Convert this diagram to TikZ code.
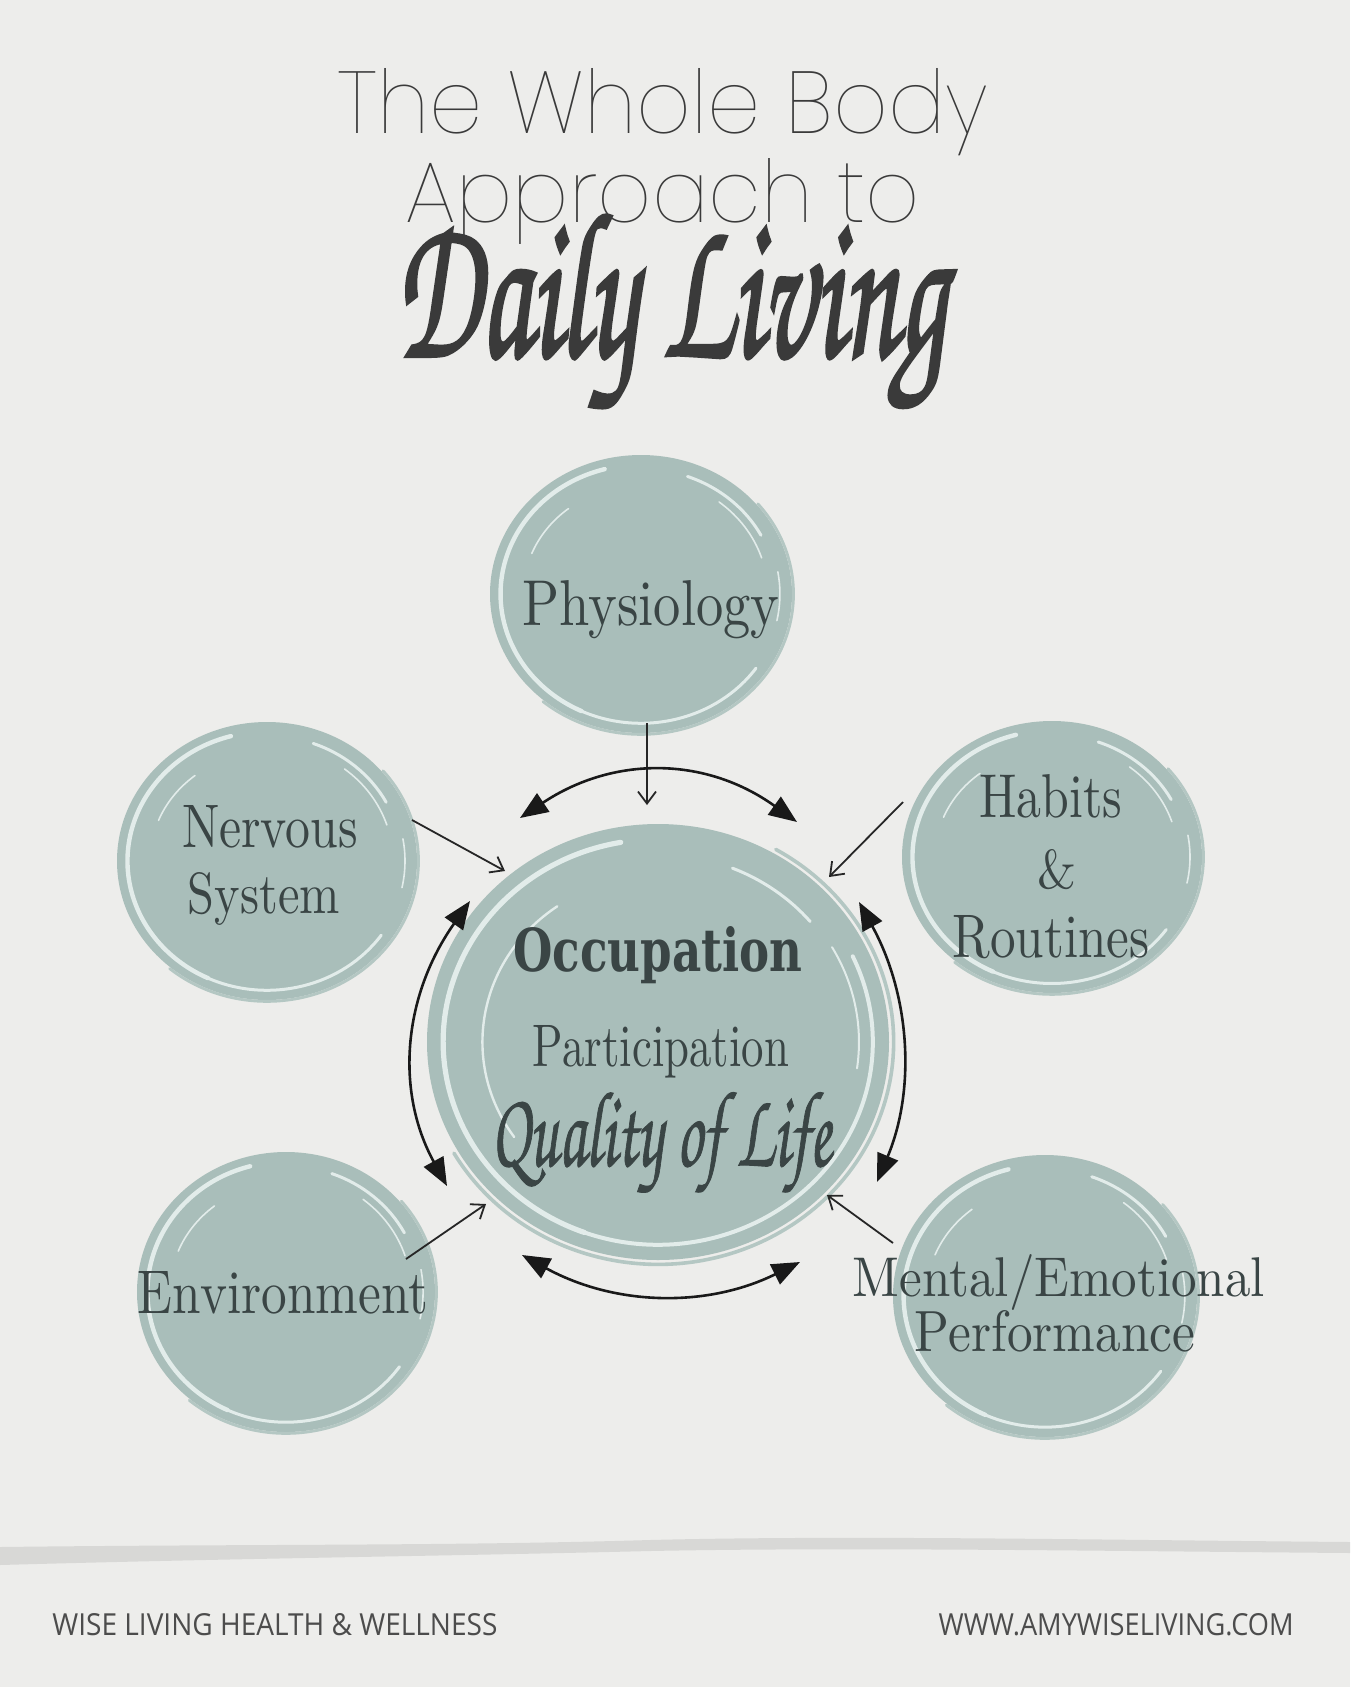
\documentclass[tikz,border=0pt]{standalone}
\usepackage{fontspec}
\usepackage{graphicx}
\usetikzlibrary{arrows.meta,shapes.geometric}
\definecolor{bgc}{HTML}{EDEDEB}
\definecolor{sage}{HTML}{A9BEBA}
\definecolor{sageL}{HTML}{B4C7C3}
\definecolor{hil}{HTML}{E2ECEA}
\definecolor{ink}{HTML}{3A4545}
\definecolor{titleink}{HTML}{3A3A3A}
\definecolor{bandc}{HTML}{D8D8D6}
\newfontfamily\titlefont{Poppins Thin}
\newfontfamily\brushfont{TeX Gyre Chorus}[FakeBold=2]
\newfontfamily\brushlight{TeX Gyre Chorus}[FakeBold=1]
\newfontfamily\labfont{Latin Modern Roman}
\newfontfamily\occfont{DejaVu Serif}
\newfontfamily\footfont{Open Sans}
\newcommand\fitbox[3]{\resizebox{#1pt}{#2pt}{#3}}
\newcommand\blobdeco[3]{%
\begin{scope}[shift={(#1.center)}, x=#2pt, y=#3pt]
 \draw[sageL, line width=1.4pt, line cap=round] (-130:1.01) arc[start angle=-130, end angle=40, radius=1.01];
 \draw[hl, line width=2.2pt] (105:0.93) arc[start angle=105, end angle=245, radius=0.93];
 \draw[hl, line width=1.5pt] (245:0.93) arc[start angle=245, end angle=325, radius=0.93];
 \draw[hl, line width=1.5pt] (28:0.9) arc[start angle=28, end angle=70, radius=0.9];
 \draw[hl, line width=0.8pt] (18:0.84) arc[start angle=18, end angle=52, radius=0.84];
 \draw[hl, line width=0.8pt] (-12:0.92) arc[start angle=-12, end angle=10, radius=0.92];
 \draw[hl, line width=0.8pt] (128:0.78) arc[start angle=128, end angle=158, radius=0.78];
\end{scope}}
\tikzset{
  blob/.style={ellipse, fill=sage, inner sep=0pt},
  hl/.style={draw=hil, line cap=round},
  lab/.style={text=ink, inner sep=0pt, anchor=base},
  feed/.style={draw=black!85, line width=0.9pt, -{Straight Barb[length=6pt,width=9pt,line width=0.9pt]}},
  swing/.style={draw=black!90, line width=1.3pt, {Triangle[length=14pt,width=11pt]}-{Triangle[length=14pt,width=11pt]}},
}
\begin{document}
\begin{tikzpicture}[x=0.5pt, y=-0.5pt]
\fill[bgc] (0,0) rectangle (1350,1687);
\useasboundingbox (0,0) rectangle (1350,1687);

% bottom band
\fill[bandc] (0,1547) .. controls (250,1544) and (450,1546) .. (650,1540)
  .. controls (850,1535) and (1100,1540) .. (1350,1542)
  -- (1350,1553) .. controls (1100,1551) and (850,1547) .. (650,1551)
  .. controls (450,1556) and (250,1558) .. (0,1565) -- cycle;

% title
\node[inner sep=0pt, anchor=base, text=titleink] (t1) at (663,133) {\fitbox{325}{32.5}{\titlefont The Whole Body}};
\node[inner sep=0pt, anchor=base, text=titleink] (t2) at (663,222) {\fitbox{257}{32}{\titlefont Approach to}};
\node[inner sep=0pt, anchor=north, text=titleink] (t3) at (671,215) {\resizebox*{275pt}{96pt}{\brushfont Daily Living}};

% circles
\node[blob, minimum width=151pt, minimum height=139pt] (phys) at (641,594) {};
\node[blob, minimum width=150pt, minimum height=139pt] (nerv) at (267,861) {};
\node[blob, minimum width=150pt, minimum height=136pt] (hab) at (1052,857) {};
\node[blob, minimum width=149pt, minimum height=140pt] (env) at (286,1292) {};
\node[blob, minimum width=152pt, minimum height=141pt] (ment) at (1045,1296) {};
\node[blob, minimum width=231pt, minimum height=218pt] (occ) at (658,1042) {};
\blobdeco{phys}{75.5}{69.5}
\blobdeco{nerv}{75}{69.5}
\blobdeco{hab}{75}{68}
\blobdeco{env}{74.5}{70}
\blobdeco{ment}{76}{70.5}
\begin{scope}[shift={(occ.center)}, x=115.5pt, y=109pt]
 \draw[sageL, line width=1.8pt, line cap=round] (-150:1.02) arc[start angle=-150, end angle=60, radius=1.02];
 \draw[hl, line width=2.6pt] (100:0.93) arc[start angle=100, end angle=250, radius=0.93];
 \draw[hl, line width=2pt] (250:0.93) arc[start angle=250, end angle=385, radius=0.93];
 \draw[hl, line width=1.5pt] (40:0.86) arc[start angle=40, end angle=68, radius=0.86];
 \draw[hl, line width=1pt] (-8:0.87) arc[start angle=-8, end angle=30, radius=0.87];
 \draw[hl, line width=1.2pt] (125:0.76) arc[start angle=125, end angle=215, radius=0.76];
\end{scope}

% labels
\node[lab] (physl) at (651,625) {\fitbox{128.5}{22.5}{\labfont Physiology}};
\node[lab] (nerv1) at (270,847) {\fitbox{88}{21}{\labfont Nervous}};
\node[lab] (nerv2) at (264,913) {\fitbox{76}{20.5}{\labfont System}};
\node[lab] (hab1) at (1051,817) {\fitbox{71.5}{21.5}{\labfont Habits}};
\node[lab] (hab2) at (1057,888) {\fitbox{19.5}{19.5}{\labfont\&}};
\node[lab] (hab3) at (1051,957) {\fitbox{98.5}{21}{\labfont Routines}};
\node[lab] (envl) at (283,1313) {\fitbox{145}{21}{\labfont Environment}};
\node[lab] (ment1) at (1059,1296) {\fitbox{206}{21}{\labfont Mental/Emotional}};
\node[lab] (ment2) at (1055,1351) {\fitbox{140}{20.5}{\labfont Performance}};
\node[lab] (occl) at (658,971) {\fitbox{144.5}{22.5}{\occfont\bfseries Occupation}};
\node[lab] (part) at (661,1066) {\fitbox{128}{20.5}{\labfont Participation}};
\node[inner sep=0pt, anchor=north, text=ink] (qol) at (661,1092) {\resizebox*{170pt}{50pt}{\brushlight Quality of Life}};

% footer
\node[inner sep=0pt, anchor=base west, text=black!70] (fl) at (52,1635) {\fitbox{222.5}{11}{\footfont WISE LIVING HEALTH \& WELLNESS}};
\node[inner sep=0pt, anchor=base east, text=black!70] (fr) at (1294,1635) {\fitbox{177.5}{11}{\footfont WWW.AMYWISELIVING.COM}};

% arrow end coordinates
\coordinate (pa) at (647,723);   \coordinate (pb) at (647,805);
\coordinate (na) at (412,820);   \coordinate (nb) at (505,871);
\coordinate (ha) at (903,802);   \coordinate (hb) at (829,877);
\coordinate (ea) at (406,1259);  \coordinate (eb) at (486,1204);
\coordinate (ma) at (893,1243);  \coordinate (mb) at (827,1195);
\coordinate (tl) at (520,818);   \coordinate (tr) at (797,822);
\coordinate (bl) at (522,1255);  \coordinate (br) at (800,1262);
\coordinate (lt) at (470,901);   \coordinate (lb) at (447,1186);
\coordinate (rt) at (859,902);   \coordinate (rb) at (877,1182);

\draw[feed] (pa) -- (pb);
\draw[feed] (na) -- (nb);
\draw[feed] (ha) -- (hb);
\draw[feed] (ea) -- (eb);
\draw[feed] (ma) -- (mb);

\draw[swing] (tl) .. controls (613,756) and (705,756) .. (tr);
\draw[swing] (bl) .. controls (615,1306) and (707,1308) .. (br);
\draw[swing] (lt) .. controls (403,996) and (395,1091) .. (lb);
\draw[swing] (rt) .. controls (910,995) and (916,1089) .. (rb);
\end{tikzpicture}
\end{document}
